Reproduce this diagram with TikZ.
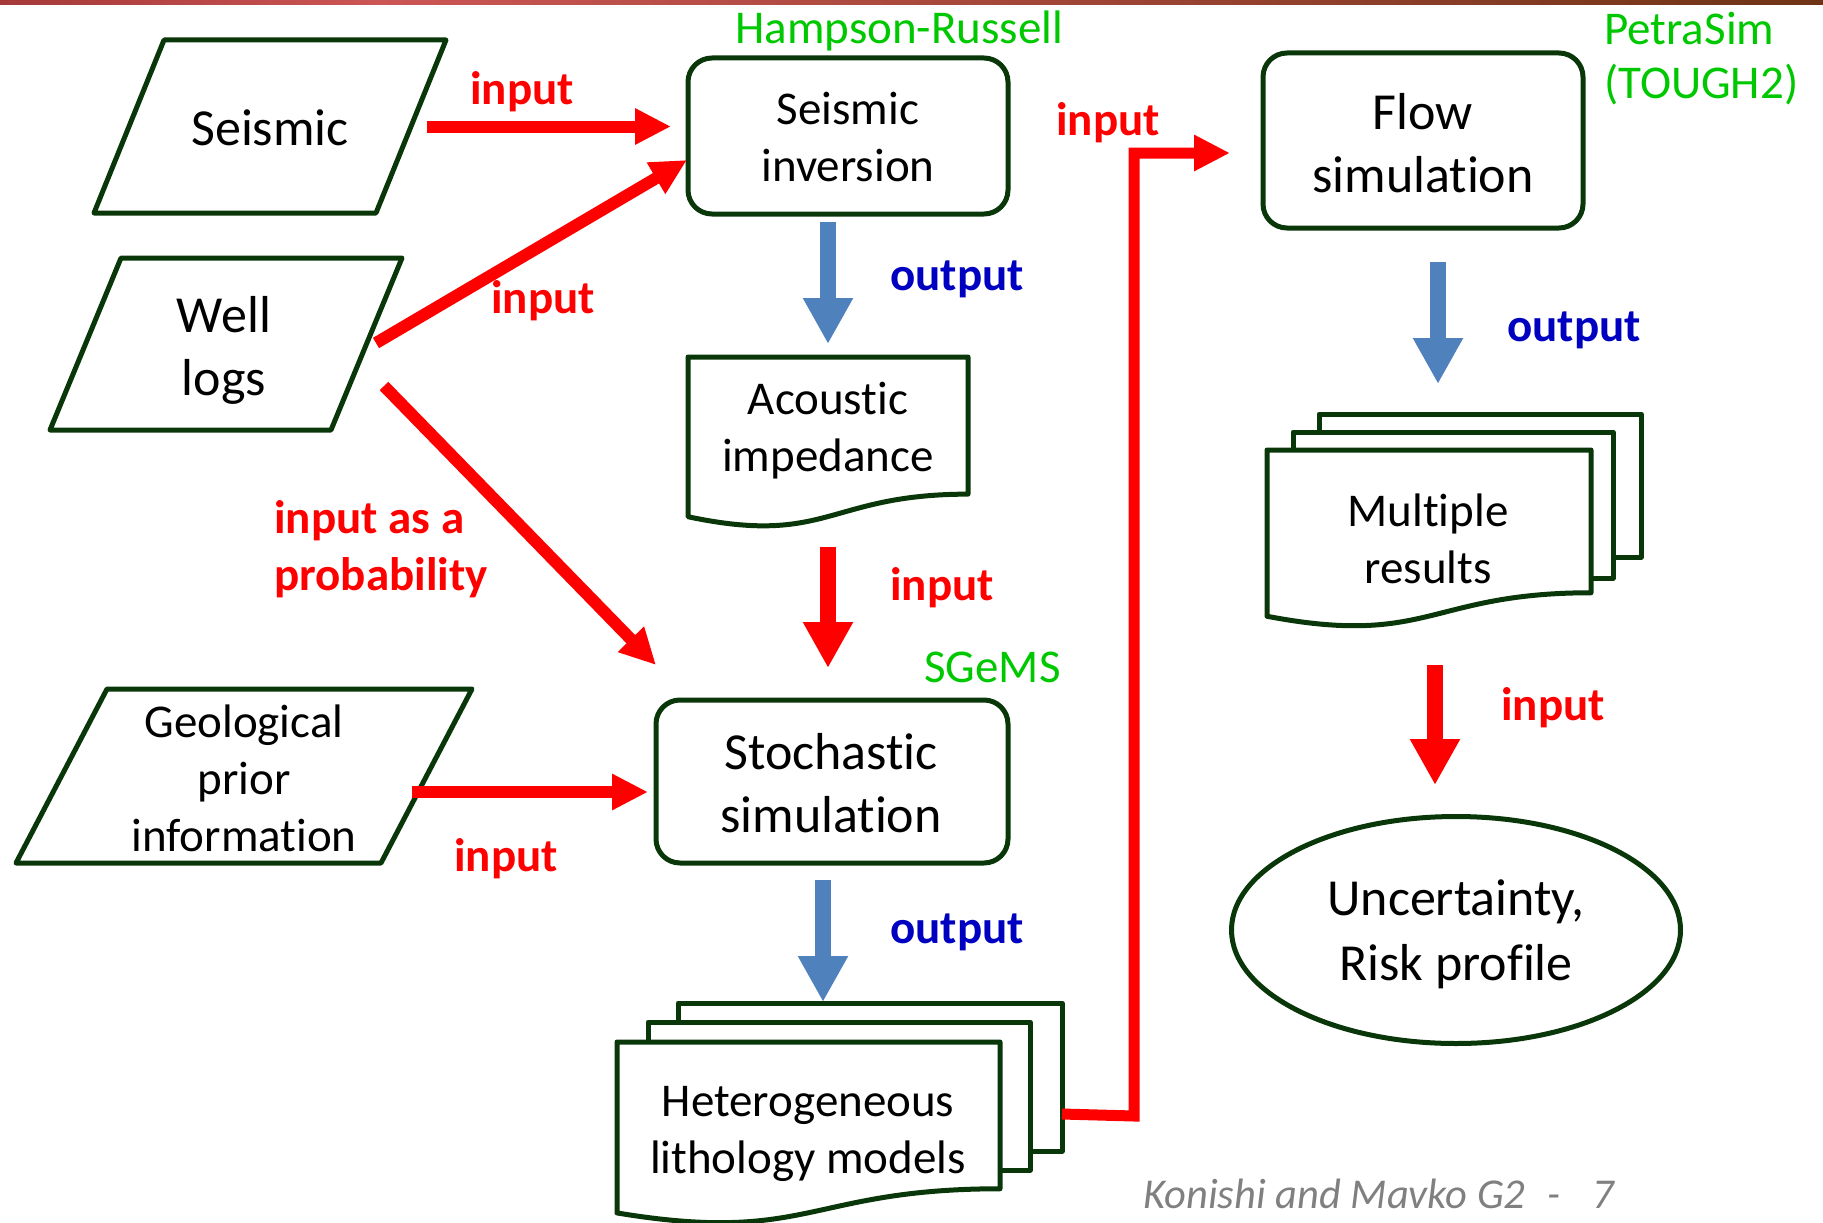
\documentclass[tikz,border=0pt]{standalone}
\usepackage{fontspec}
\setmainfont{Carlito}[Ligatures=NoCommon]
\usetikzlibrary{arrows.meta,calc,shapes.geometric}

\definecolor{bord}{RGB}{10,55,10}
\definecolor{grn}{RGB}{0,200,0}
\definecolor{dblue}{RGB}{0,0,192}
\definecolor{ablue}{RGB}{79,129,189}
\definecolor{rd}{RGB}{255,0,0}
\definecolor{barL}{RGB}{165,56,56}
\definecolor{barM}{RGB}{204,85,85}
\definecolor{barR}{RGB}{111,52,21}
\definecolor{foot}{RGB}{128,128,128}

\tikzset{
 big/.style={font=\fontsize{52}{63}\selectfont, align=center},
 small/.style={font=\fontsize{47}{57}\selectfont, align=center},
 lbl/.style={font=\fontsize{47}{57}\selectfont\bfseries, text=rd, inner sep=0pt},
 olbl/.style={font=\fontsize{47}{57}\selectfont\bfseries, text=dblue, inner sep=0pt},
 sw/.style={font=\fontsize{47}{57}\selectfont, text=grn, anchor=west, inner sep=0pt},
 bx/.style={inner sep=0pt, outer sep=0pt},
 shp/.style={draw=bord, line width=5pt, line join=round},
 ra/.style={draw=rd, line width=12pt, line join=miter, -{Triangle[width=34pt,length=36pt]}},
 rblock/.style={draw=rd, line width=16pt, -{Triangle[width=47pt,length=46pt]}},
 bblock/.style={draw=ablue, line width=16pt, -{Triangle[width=47pt,length=46pt]}},
}

\newcommand{\parashape}[2]{\draw[shp] ($(#1.north west)+(#2,0)$) -- (#1.north east) -- ($(#1.south east)+(-#2,0)$) -- (#1.south west) -- cycle;}
\newcommand{\docshape}[1]{\draw[shp, fill=white] (#1.north west) -- (#1.north east) -- ($(#1.north east)!0.802!(#1.south east)$) .. controls ($(#1.north)!0.802!(#1.south)$) and ($(#1.north)!1.1075!(#1.south)$) .. ($(#1.north west)!0.934!(#1.south west)$) -- cycle;}
\newcommand{\pageshape}[1]{\draw[shp, fill=white] (#1.north west) rectangle (#1.south east);}

\begin{document}
\begin{tikzpicture}[x=1pt,y=-1pt]
\useasboundingbox (0,0) rectangle (1823,1223);

% top bar
\shade[left color=barL, right color=barM] (0,0) rectangle (380,5);
\shade[left color=barM, right color=barR] (380,0) rectangle (1823,5);

% parallelograms
\node[bx, minimum width=352pt, minimum height=173pt] (seis) at (270,126.5) {};
\node[big, inner sep=0pt] (seisT) at (270,127.5) {Seismic};
\parashape{seis}{70}
\node[bx, minimum width=352pt, minimum height=172pt] (wells) at (226,344) {};
\node[big, inner sep=0pt] (wellsT) at (224,350) {Well\\logs};
\parashape{wells}{71}
\node[bx, minimum width=456pt, minimum height=174pt] (geo) at (244,776) {};
\node[small, inner sep=0pt] (geoT) at (244,778) {Geological\\prior\\information};
\parashape{geo}{91}

% rounded boxes
\node[bx, draw=bord, line width=5pt, rounded corners=24pt, minimum width=320pt, minimum height=156pt] (inv) at (848,136) {};
\node[small, inner sep=0pt] (invT) at (848,137) {Seismic\\inversion};
\node[bx, draw=bord, line width=5pt, rounded corners=24pt, minimum width=320pt, minimum height=175pt] (flow) at (1423,140.5) {};
\node[big, inner sep=0pt] (flowT) at (1423,143.5) {Flow\\simulation};
\node[bx, draw=bord, line width=5pt, rounded corners=24pt, minimum width=352pt, minimum height=163pt] (stoch) at (832,781.5) {};
\node[big, inner sep=0pt] (stochT) at (831,783) {Stochastic\\simulation};

% acoustic impedance document
\node[bx, minimum width=280pt, minimum height=171pt] (acou) at (828,442.5) {};
\docshape{acou}
\node[small, inner sep=0pt] (acouT) at (828,431) {Acoustic\\impedance};

% heterogeneous stack
\node[bx, minimum width=384pt, minimum height=148pt] (hetA) at (870,1077) {};
\node[bx, minimum width=382pt, minimum height=148pt] (hetB) at (839,1096) {};
\node[bx, minimum width=383pt, minimum height=183pt] (hetC) at (808.5,1133.5) {};
\pageshape{hetA}
\pageshape{hetB}
\docshape{hetC}
\node[small, inner sep=0pt] (hetT) at (808,1134) {Heterogeneous\\lithology models};

% multiple results stack
\node[bx, minimum width=322pt, minimum height=143pt] (mrA) at (1480,485.5) {};
\node[bx, minimum width=320pt, minimum height=146pt] (mrB) at (1453,505) {};
\node[bx, minimum width=324pt, minimum height=178pt] (mrC) at (1429,539) {};
\pageshape{mrA}
\pageshape{mrB}
\docshape{mrC}
\node[small, inner sep=0pt] (mrT) at (1428,539) {Multiple\\results};

% ellipse
\node[ellipse, draw=bord, line width=5pt, inner sep=0pt, minimum width=449pt, minimum height=227pt] (unc) at (1456,930) {};
\node[font=\fontsize{52}{65}\selectfont, align=center, inner sep=0pt] (uncT) at (1456,934) {Uncertainty,\\Risk profile};

% red input arrows
\draw[ra] ([xshift=-19pt]seis.east) -- ($(seis.east -| inv.west)+(-17,0)$);
\draw[ra] ($(wells.east)+(-26,-1)$) -- ($(inv.west)+(-1,24)$);
\draw[ra] ($(wells.east)+(-18,42)$) -- ($(stoch.north west)+(0,-35)$);
\draw[ra] ($(geo.east)+(-60,16)$) -- ($(geo.east -| stoch.west)+(-8,16)$);
\draw[ra, line width=11pt] ($(hetA.east)+(0,37)$) -- ++(72,2) |- ($(flow.west)+(-33,12.5)$);

% block arrows
\draw[bblock] ($(inv.south -| acou.north)+(0,8)$) -- ($(acou.north)+(0,-13)$);
\draw[rblock] ($(acou.south)+(0,19)$) -- ($(acou.south |- stoch.north)+(0,-32)$);
\draw[bblock] ($(stoch.south)+(-9,17)$) -- ($(stoch.south |- hetA.north)+(-9,-1)$);
\draw[bblock] ($(flow.south)+(15,34)$) -- ($(flow.south |- mrA.north)+(15,-30)$);
\draw[rblock] ($(mrC.south)+(6,37)$) -- ($(mrC.south |- unc.north)+(6,-29)$);

% labels
\node[lbl] (l1) at (522,92) {input};
\node[lbl] (l2) at (543,301) {input};
\node[lbl, align=left, anchor=west] (l3) at (274,549) {input as a\\probability};
\node[lbl] (l4) at (506,859) {input};
\node[olbl] (o1) at (957,279) {output};
\node[lbl] (l5) at (942,588) {input};
\node[olbl] (o2) at (957,932) {output};
\node[lbl] (l6) at (1108,123) {input};
\node[olbl] (o3) at (1574,330) {output};
\node[lbl] (l7) at (1553,708) {input};

% software labels
\node[sw] (hr) at (735,31) {Hampson-Russell};
\node[sw] (sg) at (924,667) {SGeMS};
\node[sw] (ps) at (1604,29) {PetraSim};
\node[sw] (tg) at (1604,85) {(TOUGH2)};

% footer
\node[anchor=west, inner sep=0pt, text=foot, font=\fontsize{42.5}{50}\selectfont\itshape] (ft) at (1143,1194) {Konishi and Mavko G2\hspace{22pt}-\hspace{32pt}7};
\end{tikzpicture}
\end{document}
